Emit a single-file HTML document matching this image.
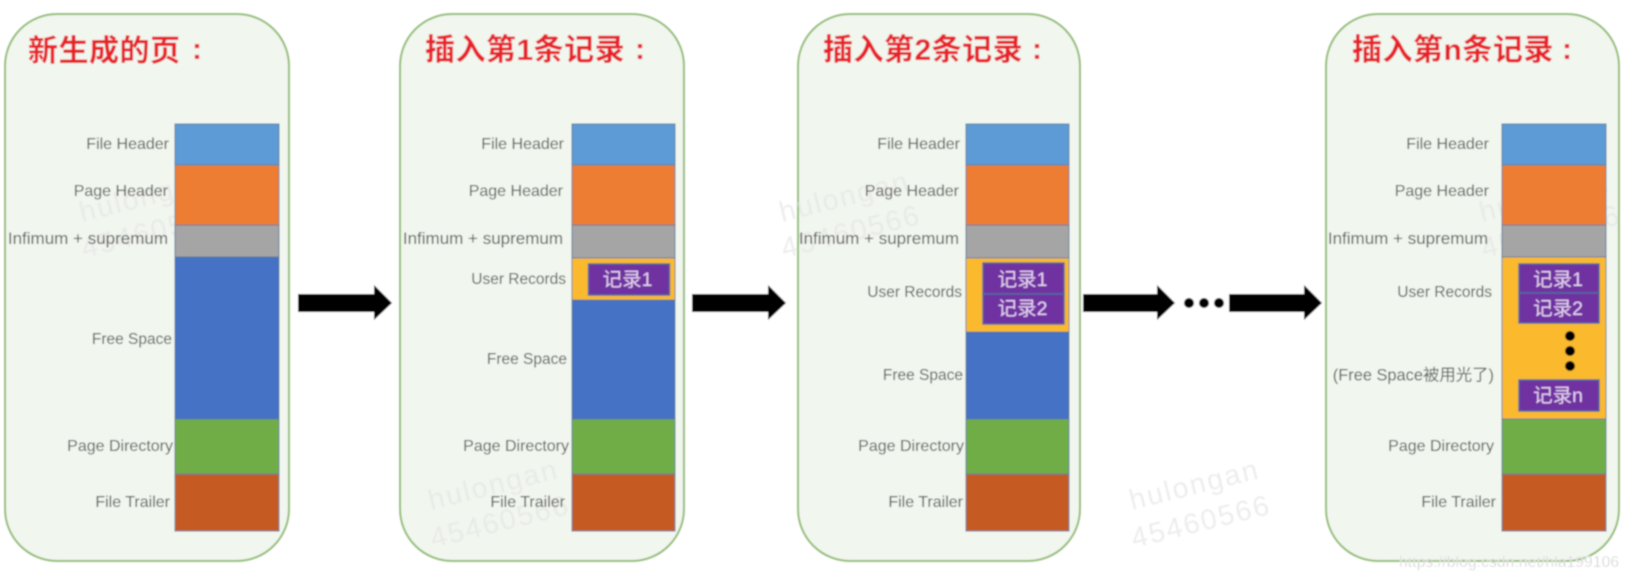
<!DOCTYPE html>
<html><head><meta charset="utf-8"><style>
html,body{margin:0;padding:0;background:#fff;width:1628px;height:580px;overflow:hidden}
svg{display:block}
text{font-family:"Liberation Sans","Noto Sans CJK SC",sans-serif}
.l{font-size:16px;fill:#585858;text-anchor:end;dominant-baseline:central;transform:translateY(-.5px)}
.i{font-size:17px}
.f{font-size:15.5px}
.n{font-size:16.4px}
.t{font-size:30px;font-weight:700;fill:#e8202c;letter-spacing:.5px}
.r{font-size:19.5px;fill:#e6d3f2;text-anchor:middle;dominant-baseline:central}
.w{font-size:28.5px;fill:#e6e6e6;letter-spacing:2px;opacity:.7}
.p{fill:#f1f6ee;stroke:#8fbc6f;stroke-width:2}
.s rect{stroke:#5a7a9c;stroke-width:1}
.rec{fill:#7030a0;stroke:#4e6aa0;stroke-width:1.5}
</style></head><body>
<svg width="1628" height="580" viewBox="0 0 1628 580" xmlns="http://www.w3.org/2000/svg">
<g filter="url(#b)">
<defs><filter id="b" x="0" y="0" width="100%" height="100%"><feGaussianBlur stdDeviation="0.7"/></filter></defs>
<rect width="1628" height="580" fill="#fff"/>

<rect class="p" x="5" y="14" width="284" height="547" rx="52"/>
<rect class="p" x="400" y="14" width="284" height="547" rx="52"/>
<rect class="p" x="798" y="14" width="282" height="547" rx="52"/>
<rect class="p" x="1326" y="14" width="293" height="547" rx="52"/>

<text class="w" transform="translate(82,222) rotate(-14)">hulongan</text>
<text class="w" transform="translate(84,258) rotate(-14)">45460566</text>
<text class="w" transform="translate(782,222) rotate(-14)">hulongan</text>
<text class="w" transform="translate(784,258) rotate(-14)">45460566</text>
<text class="w" transform="translate(1482,222) rotate(-14)">hulongan</text>
<text class="w" transform="translate(1484,258) rotate(-14)">45460566</text>
<text class="w" transform="translate(431,510) rotate(-14)">hulongan</text>
<text class="w" transform="translate(433,548) rotate(-14)">45460566</text>
<text class="w" transform="translate(1132,510) rotate(-14)">hulongan</text>
<text class="w" transform="translate(1134,548) rotate(-14)">45460566</text>

<text class="t" x="28" y="61">新生成的页</text><text class="t" x="192" y="59">:</text>
<text class="t" x="425" y="60">插入第1条记录</text><text class="t" x="635" y="59">:</text>
<text class="t" x="823" y="60">插入第2条记录</text><text class="t" x="1032" y="59">:</text>
<text class="t" x="1352" y="60">插入第n条记录</text><text class="t" x="1562" y="59">:</text>

<!-- stack 1 -->
<g class="s">
<rect x="175" y="124" width="104" height="41" fill="#5b9bd5"/>
<rect x="175" y="165" width="104" height="60" fill="#ed7d31"/>
<rect x="175" y="225" width="104" height="32" fill="#a5a5a5"/>
<rect x="175" y="257" width="104" height="162" fill="#4472c4"/>
<rect x="175" y="419" width="104" height="55" fill="#70ad47"/>
<rect x="175" y="474" width="104" height="57" fill="#c55a22"/>
</g>
<text class="l" x="169" y="145">File Header</text>
<text class="l" x="168" y="192">Page Header</text>
<text class="l i" x="168" y="239">Infimum + supremum</text>
<text class="l f" x="172" y="340">Free Space</text>
<text class="l" x="173" y="447">Page Directory</text>
<text class="l" x="170" y="503">File Trailer</text>

<!-- stack 2 -->
<g class="s">
<rect x="572" y="124" width="103" height="41" fill="#5b9bd5"/>
<rect x="572" y="165" width="103" height="60" fill="#ed7d31"/>
<rect x="572" y="225" width="103" height="33" fill="#a5a5a5"/>
<rect x="572" y="258" width="103" height="42" fill="#fbb92f"/>
<rect x="572" y="300" width="103" height="119" fill="#4472c4"/>
<rect x="572" y="419" width="103" height="55" fill="#70ad47"/>
<rect x="572" y="474" width="103" height="57" fill="#c55a22"/>
</g>
<rect class="rec" x="588.500" y="264" width="81" height="31"/>
<text class="r" x="627.500" y="280">记录1</text>
<text class="l" x="564" y="145">File Header</text>
<text class="l" x="563" y="192">Page Header</text>
<text class="l i" x="563" y="239">Infimum + supremum</text>
<text class="l f" x="566" y="280">User Records</text>
<text class="l f" x="567" y="360">Free Space</text>
<text class="l" x="569" y="447">Page Directory</text>
<text class="l" x="565" y="503">File Trailer</text>

<!-- stack 3 -->
<g class="s">
<rect x="966" y="124" width="103" height="41" fill="#5b9bd5"/>
<rect x="966" y="165" width="103" height="60" fill="#ed7d31"/>
<rect x="966" y="225" width="103" height="33" fill="#a5a5a5"/>
<rect x="966" y="258" width="103" height="74" fill="#fbb92f"/>
<rect x="966" y="332" width="103" height="87" fill="#4472c4"/>
<rect x="966" y="419" width="103" height="55" fill="#70ad47"/>
<rect x="966" y="474" width="103" height="57" fill="#c55a22"/>
</g>
<rect class="rec" x="983" y="263" width="81" height="31"/>
<rect class="rec" x="983" y="294" width="81" height="30"/>
<text class="r" x="1022.500" y="280">记录1</text>
<text class="r" x="1022.500" y="309">记录2</text>
<text class="l" x="960" y="145">File Header</text>
<text class="l" x="959" y="192">Page Header</text>
<text class="l i" x="959" y="239">Infimum + supremum</text>
<text class="l f" x="962" y="293">User Records</text>
<text class="l f" x="963" y="376">Free Space</text>
<text class="l" x="964" y="447">Page Directory</text>
<text class="l" x="963" y="503">File Trailer</text>

<!-- stack 4 -->
<g class="s">
<rect x="1502" y="124" width="104" height="41" fill="#5b9bd5"/>
<rect x="1502" y="165" width="104" height="60" fill="#ed7d31"/>
<rect x="1502" y="225" width="104" height="32" fill="#a5a5a5"/>
<rect x="1502" y="257" width="104" height="162" fill="#fbb92f"/>
<rect x="1502" y="419" width="104" height="55" fill="#70ad47"/>
<rect x="1502" y="474" width="104" height="57" fill="#c55a22"/>
</g>
<rect class="rec" x="1519" y="264" width="80" height="29"/>
<rect class="rec" x="1519" y="293" width="80" height="30"/>
<rect class="rec" x="1519" y="380" width="80" height="31"/>
<text class="r" x="1558" y="280">记录1</text>
<text class="r" x="1558" y="309">记录2</text>
<text class="r" x="1558" y="396">记录n</text>
<circle cx="1570" cy="336" r="5" fill="#000"/><circle cx="1570" cy="351" r="5" fill="#000"/><circle cx="1570" cy="366" r="5" fill="#000"/>
<text class="l" x="1489" y="145">File Header</text>
<text class="l" x="1489" y="192">Page Header</text>
<text class="l i" x="1488" y="239">Infimum + supremum</text>
<text class="l f" x="1492" y="293">User Records</text>
<text class="l n" x="1494" y="376">(Free Space被用光了)</text>
<text class="l" x="1494" y="447">Page Directory</text>
<text class="l" x="1496" y="503">File Trailer</text>

<!-- arrows -->
<polygon points="298,294 374,294 374,285 392,303 374,320 374,312 298,312" fill="#000"/>
<polygon points="692,294 768,294 768,285 786,303 768,320 768,312 692,312" fill="#000"/>
<polygon points="1083,294 1157,294 1157,285 1175,303 1157,320 1157,312 1083,312" fill="#000"/>
<polygon points="1229,294 1304,294 1304,285 1322,303 1304,320 1304,312 1229,312" fill="#000"/>
<circle cx="1189" cy="303" r="5" fill="#000"/><circle cx="1204" cy="303" r="5" fill="#000"/><circle cx="1219" cy="303" r="5" fill="#000"/>

<text x="1399" y="567" font-size="15.5" fill="#c9c9c9" textLength="220" stroke="#fff" stroke-width=".4">https://blog.csdn.net/hla199106</text>
</g>
</svg>
</body></html>
